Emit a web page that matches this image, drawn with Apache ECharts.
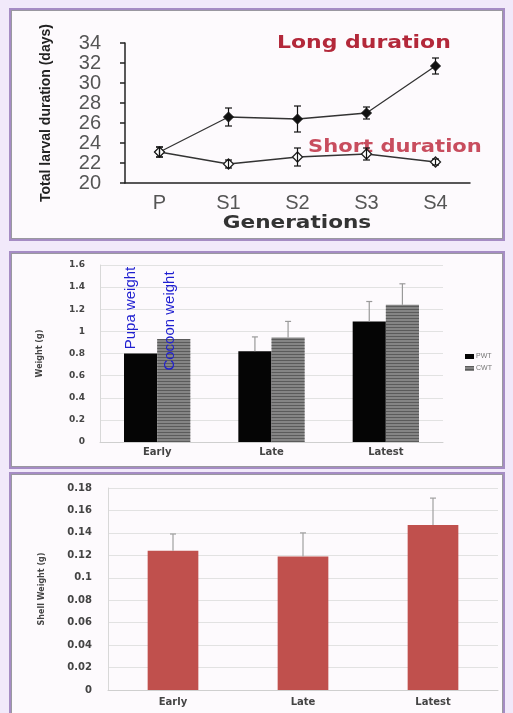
<!DOCTYPE html>
<html><head><meta charset="utf-8">
<script src="https://cdn.jsdelivr.net/npm/echarts@6/dist/echarts.min.js"></script>
<style>
html,body{margin:0;padding:0;background:#f1e9fa;width:513px;height:713px;overflow:hidden;}
.panel{position:absolute;left:9px;width:496px;background:#fdfafd;border:2px solid #a58cc4;box-shadow:inset 0 0 0 1px #9a98a0;box-sizing:border-box;}
#chart{position:absolute;left:0;top:0;width:513px;height:713px;}
</style></head>
<body>
<div class="panel" style="top:8px;height:233px;"></div>
<div class="panel" style="top:251px;height:218px;"></div>
<div class="panel" style="top:472px;height:250px;"></div>
<div id="chart"></div>
<script>
// Panel 1: total larval duration
const generations = ['P','S1','S2','S3','S4'];
const longDuration = [23.1, 26.6, 26.4, 27.0, 31.7];
const longErr = [0.5, 0.9, 1.3, 0.6, 0.8];
const shortDuration = [23.1, 21.9, 22.6, 22.9, 22.1];
const shortErr = [0.5, 0.4, 0.9, 0.6, 0.3];
const durationTicks = [20,22,24,26,28,30,32,34];

// Panel 2: pupa / cocoon weight
const seasons = ['Early','Late','Latest'];
const pwt = [0.80, 0.82, 1.09];
const pwtErr = [null, 0.13, 0.18];
const cwt = [0.93, 0.945, 1.24];
const cwtErr = [null, 0.145, 0.19];

// Panel 3: shell weight
const shell = [0.124, 0.119, 0.147];
const shellErr = [0.015, 0.021, 0.024];

const chart = echarts.init(document.getElementById('chart'), null, {renderer:'canvas'});

function errSeries(name, xi, yi, vals, errs, offsetFrac, both, color, capHalf){
  const data = [];
  vals.forEach((v,i)=>{ if(errs[i]!=null) data.push([i, v, errs[i]]); });
  return {
    type:'custom', name:name, xAxisIndex:xi, yAxisIndex:yi, z:5, silent:true,
    data:data,
    renderItem:function(params, api){
      const c = api.value(0), v = api.value(1), e = api.value(2);
      const bw = api.size([1,0])[0];
      const p0 = api.coord([c, v]);
      const x = p0[0] + offsetFrac*bw;
      const top = api.coord([c, v+e])[1];
      const bot = both ? api.coord([c, v-e])[1] : p0[1];
      const st = {stroke:color, lineWidth:1.2};
      const ch = [
        {type:'line', shape:{x1:x,y1:top,x2:x,y2:bot}, style:st},
        {type:'line', shape:{x1:x-capHalf,y1:top,x2:x+capHalf,y2:top}, style:st}
      ];
      if(both) ch.push({type:'line', shape:{x1:x-capHalf,y1:bot,x2:x+capHalf,y2:bot}, style:st});
      return {type:'group', children:ch};
    }
  };
}

const boldSmall = {fontFamily:'DejaVu Sans, Verdana, sans-serif', fontWeight:'bold', color:'#444'};
const wideFont = 'DejaVu Sans, Verdana, sans-serif';

chart.setOption({
  backgroundColor:'transparent',
  animation:false,
  grid:[
    {left:125, right:43, top:43, bottom:530},
    {left:100, right:70, top:265, bottom:271},
    {left:108, right:15, top:488, bottom:23}
  ],
  xAxis:[
    {type:'category', gridIndex:0, data:generations, boundaryGap:true,
     axisLine:{lineStyle:{color:'#222', width:1.5}},
     axisTick:{length:5, lineStyle:{color:'#222', width:1.5}},
     axisLabel:{fontSize:20, color:'#555', margin:10, fontFamily:'Liberation Sans, Arial, sans-serif'}},
    {type:'category', gridIndex:1, data:seasons,
     axisLine:{lineStyle:{color:'#cfcfcf'}}, axisTick:{show:false},
     axisLabel:Object.assign({fontSize:10, margin:5}, boldSmall)},
    {type:'category', gridIndex:2, data:seasons,
     axisLine:{lineStyle:{color:'#cfcfcf'}}, axisTick:{show:false},
     axisLabel:Object.assign({fontSize:10, margin:7}, boldSmall)}
  ],
  yAxis:[
    {type:'value', gridIndex:0, min:durationTicks[0], max:durationTicks[durationTicks.length-1], interval:2,
     splitLine:{show:false},
     axisLine:{show:true, lineStyle:{color:'#222', width:1.5}},
     axisTick:{show:true, length:5, lineStyle:{color:'#222', width:1.5}},
     axisLabel:{fontSize:20, color:'#555', margin:24, fontFamily:'Liberation Sans, Arial, sans-serif'},
     name:'Total larval duration (days)', nameLocation:'middle', nameRotate:90, nameGap:72,
     nameTextStyle:{fontSize:14, fontWeight:'bold', color:'#222', fontFamily:'Liberation Sans Narrow, Liberation Sans, sans-serif'}},
    {type:'value', gridIndex:1, min:0, max:1.6, interval:0.2,
     splitLine:{lineStyle:{color:'#e2e2e2'}},
     axisLine:{show:true, lineStyle:{color:'#d8d8d8'}}, axisTick:{show:false},
     axisLabel:Object.assign({fontSize:9, margin:15}, boldSmall),
     name:'Weight (g)', nameLocation:'middle', nameRotate:90, nameGap:56,
     nameTextStyle:Object.assign({fontSize:8}, boldSmall)},
    {type:'value', gridIndex:2, min:0, max:0.18, interval:0.02,
     splitLine:{lineStyle:{color:'#e2e2e2'}},
     axisLine:{show:true, lineStyle:{color:'#d8d8d8'}}, axisTick:{show:false},
     axisLabel:Object.assign({fontSize:10, margin:16}, boldSmall),
     name:'Shell Weight (g)', nameLocation:'middle', nameRotate:90, nameGap:62,
     nameTextStyle:Object.assign({fontSize:8}, boldSmall)}
  ],
  legend:{
    data:['PWT','CWT'], orient:'vertical', left:460, top:348, itemGap:5,
    itemWidth:9, itemHeight:5, icon:'rect',
    textStyle:{fontSize:7, color:'#777', fontFamily:'Liberation Sans, sans-serif', padding:[0,0,0,-3]}
  },
  series:[
    {type:'line', name:'Long', xAxisIndex:0, yAxisIndex:0, data:longDuration,
     symbol:'diamond', symbolSize:10, lineStyle:{color:'#333', width:1.3},
     itemStyle:{color:'#111', borderColor:'#111'}, z:4},
    {type:'line', name:'Short', xAxisIndex:0, yAxisIndex:0, data:shortDuration,
     symbol:'diamond', symbolSize:10, lineStyle:{color:'#333', width:1.3},
     itemStyle:{color:'#fff', borderColor:'#222', borderWidth:1.3}, z:4},
    errSeries('eLong',0,0,longDuration,longErr,0,true,'#111',3.5),
    errSeries('eShort',0,0,shortDuration,shortErr,0,true,'#111',3.5),
    {type:'bar', name:'PWT', xAxisIndex:1, yAxisIndex:1, data:pwt, barWidth:'29%', barGap:'0%',
     itemStyle:{color:'#050505'}},
    {type:'bar', name:'CWT', xAxisIndex:1, yAxisIndex:1, data:cwt, barWidth:'29%', barGap:'0%',
     itemStyle:{color:'#858585', decal:{symbol:'rect', symbolSize:1, dashArrayX:[1,0], dashArrayY:[1,2], rotation:0, color:'rgba(40,40,40,0.45)'}}},
    errSeries('ePWT',1,1,pwt,pwtErr,-0.145,false,'#999',3),
    errSeries('eCWT',1,1,cwt,cwtErr,0.145,false,'#999',3),
    {type:'bar', name:'Shell', xAxisIndex:2, yAxisIndex:2, data:shell, barWidth:'39%',
     itemStyle:{color:'#c0504d'}},
    errSeries('eShell',2,2,shell,shellErr,0,false,'#a0a0a0',3)
  ],
  graphic:[
    {type:'text', x:277, y:43, scaleX:1.22, style:{text:'Long duration', fontSize:18, fontWeight:'bold', fill:'#b3283a', verticalAlign:'middle', fontFamily:wideFont}},
    {type:'text', x:308, y:147, scaleX:1.17, style:{text:'Short duration', fontSize:18, fontWeight:'bold', fill:'#c23a4c', opacity:0.9, verticalAlign:'middle', fontFamily:wideFont}},
    {type:'text', x:297, y:223, scaleX:1.2, style:{text:'Generations', fontSize:18, fontWeight:'bold', fill:'#333', align:'center', verticalAlign:'middle', fontFamily:wideFont}},
    {type:'text', x:131, y:308, rotation:Math.PI/2, style:{text:'Pupa weight', fontSize:15, fill:'#1f1fd0', align:'center', verticalAlign:'middle', fontFamily:'Liberation Sans Narrow, Liberation Sans, sans-serif'}, z:10},
    {type:'text', x:170, y:321, rotation:Math.PI/2, style:{text:'Cocoon weight', fontSize:15, fill:'#1f1fd0', align:'center', verticalAlign:'middle', fontFamily:'Liberation Sans Narrow, Liberation Sans, sans-serif'}, z:10}
  ]
});
</script>
</body></html>
